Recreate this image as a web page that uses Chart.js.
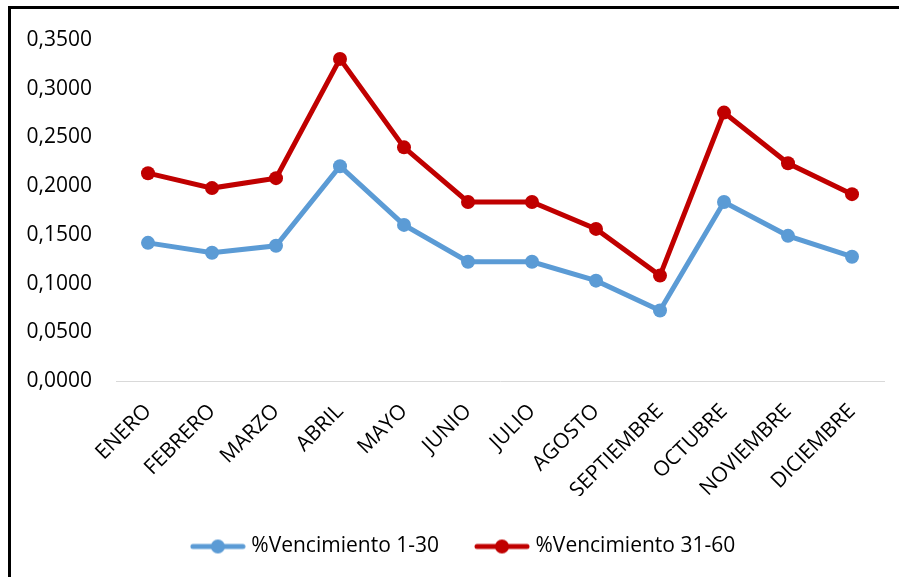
<!DOCTYPE html>
<html>
<head>
<meta charset="utf-8">
<script src="https://cdn.jsdelivr.net/npm/chart.js@4.4.0/dist/chart.umd.min.js"></script>
<style>
  html, body { margin: 0; padding: 0; background: #fff; overflow: hidden; }
  #frame { position: absolute; left: 8px; top: 6px; width: 900px; height: 580px;
           border-left: 3px solid #000; border-top: 3px solid #000; }
  #wrap { position: absolute; left: 0; top: 0; width: 899px; height: 577px; }
</style>
</head>
<body>
<div id="frame"></div>
<div id="wrap"><canvas id="vencChart" width="899" height="577"></canvas></div>
<script>
// Datos
const meses = ['ENERO', 'FEBRERO', 'MARZO', 'ABRIL', 'MAYO', 'JUNIO', 'JULIO',
               'AGOSTO', 'SEPTIEMBRE', 'OCTUBRE', 'NOVIEMBRE', 'DICIEMBRE'];
const venc_1_30 = [0.1418, 0.1316, 0.1388, 0.2204, 0.1602, 0.1224, 0.1224,
                   0.1030, 0.0724, 0.1837, 0.1490, 0.1276];
const venc_31_60 = [0.2133, 0.1980, 0.2082, 0.3306, 0.2398, 0.1837, 0.1837,
                    0.1561, 0.1082, 0.2755, 0.2235, 0.1918];
const series_names = ['%Vencimiento 1-30', '%Vencimiento 31-60'];
const series_colors = ['#5B9BD5', '#C00000'];

const FONT = '"Open Sans", sans-serif';

// icono de leyenda: linea con circulo
function legendIcon(color) {
    const c = document.createElement('canvas');
    c.width = 56; c.height = 16;
    const g = c.getContext('2d');
    g.strokeStyle = color; g.lineWidth = 5; g.lineCap = 'round';
    g.beginPath(); g.moveTo(3, 8); g.lineTo(53, 8); g.stroke();
    g.fillStyle = color;
    g.beginPath(); g.arc(28, 8, 7, 0, Math.PI * 2); g.fill();
    return c;
}

// mover la leyenda un poco a la derecha, como en el original
const shiftLegend = {
    id: 'shiftLegend',
    afterLayout(chart) {
        if (chart.legend) { chart.legend.left += 13; chart.legend.right += 13; }
    }
};

new Chart(document.getElementById('vencChart'), {
    type: 'line',
    data: {
        labels: meses,
        datasets: [venc_1_30, venc_31_60].map((vals, i) => ({
            label: series_names[i],
            data: vals,
            borderColor: series_colors[i],
            backgroundColor: series_colors[i],
            borderWidth: 5,
            pointRadius: 7,
            pointHoverRadius: 7,
            pointBorderWidth: 0,
            tension: 0
        }))
    },
    options: {
        responsive: false,
        animation: false,
        layout: { padding: { left: 20, right: 15, top: 40, bottom: 10 } },
        scales: {
            x: {
                offset: true,
                grid: { display: false },
                border: { color: '#D9D9D9', width: 1 },
                ticks: {
                    color: '#000', font: { family: FONT, size: 21 },
                    maxRotation: 45, minRotation: 45, padding: 10, autoSkip: false
                },
                afterFit: s => { s.height = 115; }
            },
            y: {
                min: 0, max: 0.35,
                grid: { display: false },
                border: { display: false },
                ticks: {
                    stepSize: 0.05, color: '#000', padding: 16,
                    font: { family: FONT, size: 21 },
                    callback: v => v.toFixed(4).replace('.', ',')
                },
                afterFit: s => { s.width = 96; }
            }
        },
        plugins: {
            tooltip: { enabled: false },
            legend: {
                position: 'bottom',
                labels: {
                    color: '#000',
                    font: { family: FONT, size: 21 },
                    usePointStyle: true,
                    pointStyleWidth: 46,
                    padding: 40,
                    generateLabels: chart => chart.data.datasets.map((ds, i) => ({
                        text: ds.label,
                        pointStyle: legendIcon(series_colors[i]),
                        fillStyle: series_colors[i],
                        strokeStyle: series_colors[i],
                        lineWidth: 0,
                        datasetIndex: i
                    }))
                }
            }
        }
    },
    plugins: [shiftLegend]
});
</script>
</body>
</html>
